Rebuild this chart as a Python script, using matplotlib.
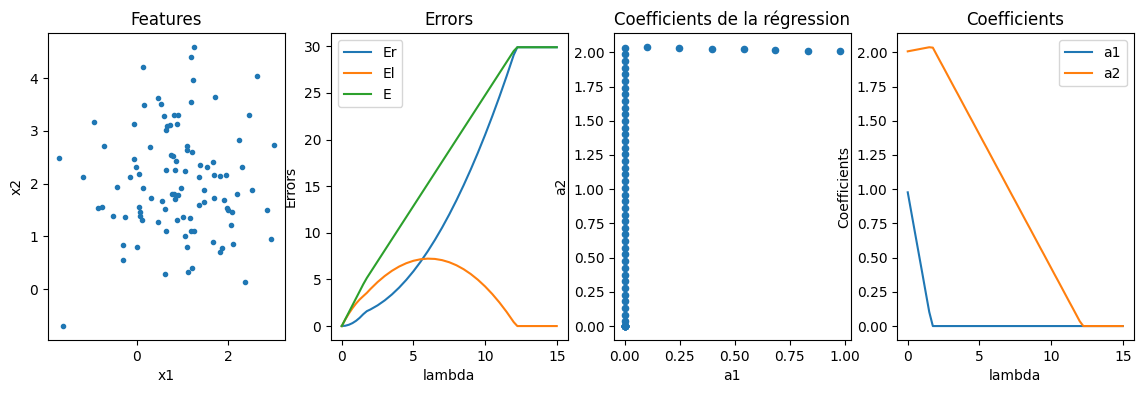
import matplotlib
matplotlib.use("Agg")
import matplotlib.pyplot as plt

# --- data ------------------------------------------------------------------
X1 = [1.259, 1.193, 0.148, 2.637, 1.237, 1.704, 0.459, 1.193, 0.526, 0.170,
      0.593, 0.807, 0.904, 2.459, -0.919, -0.052, 0.881, 0.726, 0.659, 0.637,
      2.237, -0.719, 0.296, 2.993, 1.104, 1.104, 1.215, -1.696, 0.748, 0.793,
      -0.052, 0.859, 1.659, -0.007, 1.393, 1.548, 2.304, 0.637, 0.837, 1.059,
      0.059, -1.163, -0.141, 1.370, 1.681, 1.815, 1.948, -0.430, 0.148, 0.970,
      1.481, 2.526, 0.770, 0.904, 0.815, 2.193, 0.326, 0.837, 1.681, 0.548,
      1.904, 1.370, 1.481, -0.830, -0.763, 0.059, 0.615, 1.970, 1.993, 2.081,
      2.837, 0.081, -0.519, -0.252, 0.081, 1.015, 1.170, 0.126, 0.881, 0.459,
      2.059, 0.637, 1.193, 1.259, 1.059, 1.659, 2.926, -0.296, 0.015, 1.104,
      2.104, 1.859, 1.815, -0.296, 1.215, 0.615, 1.126, 2.363, -1.607]
X2 = [4.585, 4.396, 4.208, 4.038, 3.962, 3.642, 3.623, 3.547, 3.509, 3.491,
      3.283, 3.302, 3.302, 3.302, 3.170, 3.132, 3.132, 3.113, 3.094, 3.019,
      2.830, 2.717, 2.698, 2.736, 2.717, 2.642, 2.604, 2.491, 2.547, 2.528,
      2.472, 2.434, 2.415, 2.321, 2.358, 2.321, 2.321, 2.264, 2.264, 2.245,
      2.189, 2.132, 2.132, 2.132, 2.170, 2.151, 2.170, 1.943, 1.925, 1.925,
      1.887, 1.887, 1.811, 1.792, 1.811, 1.811, 1.736, 1.717, 1.736, 1.679,
      1.698, 1.604, 1.660, 1.547, 1.566, 1.566, 1.528, 1.547, 1.509, 1.472,
      1.509, 1.472, 1.396, 1.377, 1.396, 1.377, 1.358, 1.321, 1.321, 1.283,
      1.226, 1.094, 1.094, 1.094, 1.000, 0.887, 0.943, 0.830, 0.792, 0.792,
      0.849, 0.774, 0.698, 0.547, 0.396, 0.283, 0.321, 0.132, -0.698]

# regularisation grid (lambda) and the lasso coefficients along it
LAMBDA = [0.0, 0.25, 0.5, 0.75, 1.0, 1.25, 1.5, 1.75, 2.0, 2.25,
          2.5, 2.75, 3.0, 3.25, 3.5, 3.75, 4.0, 4.25, 4.5, 4.75,
          5.0, 5.25, 5.5, 5.75, 6.0, 6.25, 6.5, 6.75, 7.0, 7.25,
          7.5, 7.75, 8.0, 8.25, 8.5, 8.75, 9.0, 9.25, 9.5, 9.75,
          10.0, 10.25, 10.5, 10.75, 11.0, 11.25, 11.5, 11.75, 12.0, 12.25,
          12.5, 12.75, 13.0, 13.25, 13.5, 13.75, 14.0, 14.25, 14.5, 14.75,
          15.0]
A1 = [0.977, 0.831, 0.685, 0.540, 0.395, 0.248, 0.103] + [0.0] * 54
A2 = [2.007, 2.012, 2.017, 2.022, 2.027, 2.032, 2.037, 2.034, 1.985, 1.936,
      1.888, 1.839, 1.790, 1.741, 1.693, 1.644, 1.595, 1.546, 1.498, 1.449,
      1.400, 1.351, 1.303, 1.254, 1.205, 1.156, 1.108, 1.059, 1.010, 0.961,
      0.913, 0.864, 0.815, 0.766, 0.718, 0.669, 0.620, 0.571, 0.523, 0.474,
      0.425, 0.376, 0.328, 0.279, 0.230, 0.181, 0.133, 0.084, 0.035] + [0.0] * 12

# errors along lambda
LAMBDA_ERR = [0.0, 0.25, 0.5, 0.75, 1.0, 1.25, 1.5, 1.75,
              2.0, 2.5, 3.0, 3.5, 4.0, 4.5, 5.0, 5.5, 6.0, 6.5, 7.0, 7.5,
              8.0, 8.5, 9.0, 9.5, 10.0, 10.5, 11.0, 11.5, 12.0, 12.25, 15.0]
ER = [0.0, 0.035, 0.141, 0.318, 0.565, 0.883, 1.271, 1.597,
      1.780, 2.219, 2.755, 3.389, 4.120, 4.949, 5.875, 6.899, 8.020, 9.239,
      10.555, 11.969, 13.480, 15.089, 16.795, 18.599, 20.500, 22.499, 24.595,
      26.789, 29.080, 29.9, 29.9]
EL = [0.0, 0.711, 1.351, 1.922, 2.422, 2.850, 3.210, 3.560,
      3.970, 4.719, 5.370, 5.924, 6.380, 6.739, 7.000, 7.164, 7.230, 7.199,
      7.070, 6.844, 6.520, 6.099, 5.580, 4.964, 4.250, 3.439, 2.530,
      1.524, 0.420, 0.0, 0.0]
E = [0.0, 0.746, 1.492, 2.240, 2.987, 3.733, 4.481, 5.157,
     5.750, 6.938, 8.125, 9.313, 10.500, 11.688, 12.875, 14.063, 15.250, 16.438,
     17.625, 18.813, 20.000, 21.188, 22.375, 23.563, 24.750, 25.938, 27.125,
     28.313, 29.500, 29.9, 29.9]

fig = plt.figure(figsize=(11.43, 3.94), dpi=100)
W, H = 1143, 394
lefts = [48, 331, 614, 897]
axes = [fig.add_axes([l / W, (H - 340) / H, 236.5 / W, 306.7 / H]) for l in lefts]

ax = axes[0]
ax.plot(X1, X2, ".")
ax.set_title("Features")
ax.set_xlabel("x1")
ax.set_ylabel("x2")

ax = axes[1]
ax.plot(LAMBDA_ERR, ER, label="Er")
ax.plot(LAMBDA_ERR, EL, label="El")
ax.plot(LAMBDA_ERR, E, label="E")
ax.set_title("Errors")
ax.set_xlabel("lambda")
ax.set_ylabel("Errors")
ax.legend(loc="upper left")

ax = axes[2]
ax.scatter(A1, A2, s=20)
ax.set_title("Coefficients de la régression")
ax.set_xlabel("a1")
ax.set_ylabel("a2")

ax = axes[3]
ax.plot(LAMBDA, A1, label="a1")
ax.plot(LAMBDA, A2, label="a2")
ax.set_title("Coefficients")
ax.set_xlabel("lambda")
ax.set_ylabel("Coefficients")
ax.legend(loc="upper right")

fig.savefig("out.png", dpi=100)
